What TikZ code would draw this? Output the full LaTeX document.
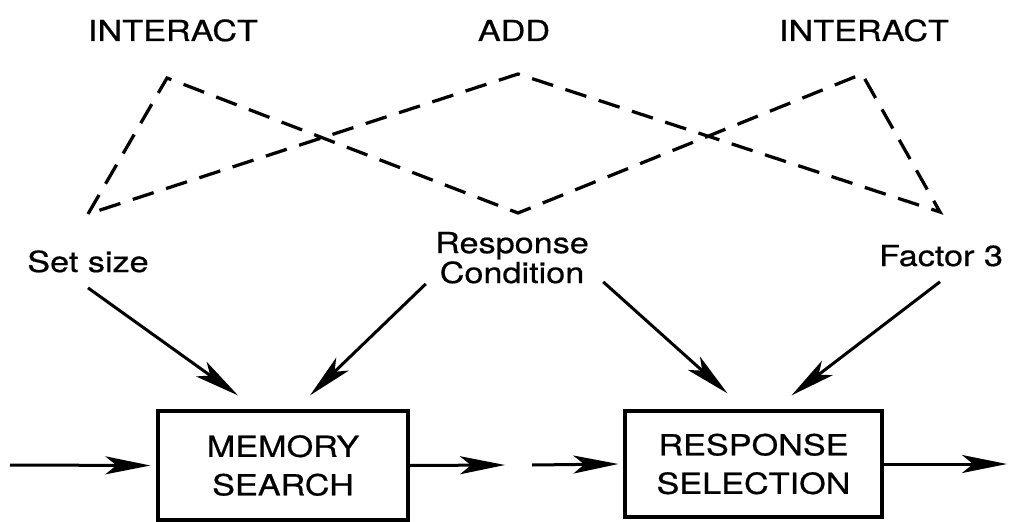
\documentclass[tikz,border=0pt]{standalone}
\usepackage{fontspec}
\setmainfont[FakeStretch=1.18, FakeBold=0.6]{TeX Gyre Heros}
\usetikzlibrary{arrows.meta, calc}

\begin{document}
\begin{tikzpicture}[
    x=0.2mm, y=-0.2mm,
    font=\fontsize{16.5}{17}\selectfont,
    lbl/.style={inner sep=0pt, anchor=base, align=center},
    stage/.style={draw, line width=0.65mm, align=center, inner sep=0pt,
                  font=\fontsize{16.5}{7.7mm}\selectfont},
    arr/.style={-{Stealth[length=9mm, width=3.6mm, inset=2.2mm]}, line width=0.6mm},
    link/.style={dash pattern=on 4.4mm off 2.6mm, line width=0.65mm},
  ]
  \useasboundingbox (0,0) rectangle (1012,522);

  % Interaction labels
  \node[lbl] (interactL) at (173,41) {INTERACT};
  \node[lbl] (add)       at (514,41) {ADD};
  \node[lbl] (interactR) at (864,41) {INTERACT};

  % Dashed pattern linking the factors
  \draw[link] (88,214) -- (167,78) -- (518,213) -- (862,74)
              -- (940,212) -- (518,74) -- cycle;

  % Factors
  \node[lbl] (setsize)  at (88,272)  {Set size};
  \node[lbl] (respcond) at (512,283) {Response\\Condition};
  \node[lbl] (factor3)  at (941,266) {Factor 3};

  % Stages
  \node[stage, minimum width=50mm, minimum height=21.8mm] (memsearch)
    at (283,465.5) {MEMORY\\SEARCH};
  \node[stage, minimum width=51.4mm, minimum height=21.2mm] (respsel)
    at (753.5,464) {RESPONSE\\SELECTION};

  % Free ends of the flow
  \coordinate (src)  at (10,465);
  \coordinate (gapL) at (505,465);
  \coordinate (gapR) at (532,465);
  \coordinate (sink) at (1007,464);

  % Connections
  \draw[arr] ($(setsize.south)+(0,15)$) -- ($(memsearch.north)+(-45,-14)$);
  \draw[arr] ($(respcond.south west)+(-9,0)$) -- ($(memsearch.north)+(27,-14)$);
  \draw[arr] ($(respcond.south east)+(14,-2)$) -- ($(respsel.north)+(-26,-16)$);
  \draw[arr] ($(factor3.south)+(-1,15)$) -- ($(respsel.north)+(38,-14)$);

  \draw[arr] (src) -- ([xshift=-1.2mm]memsearch.west);
  \draw[arr] (memsearch.east) -- (gapL);
  \draw[arr] (gapR) -- ([xshift=-1mm]respsel.west);
  \draw[arr] (respsel.east) -- (sink);
\end{tikzpicture}
\end{document}
